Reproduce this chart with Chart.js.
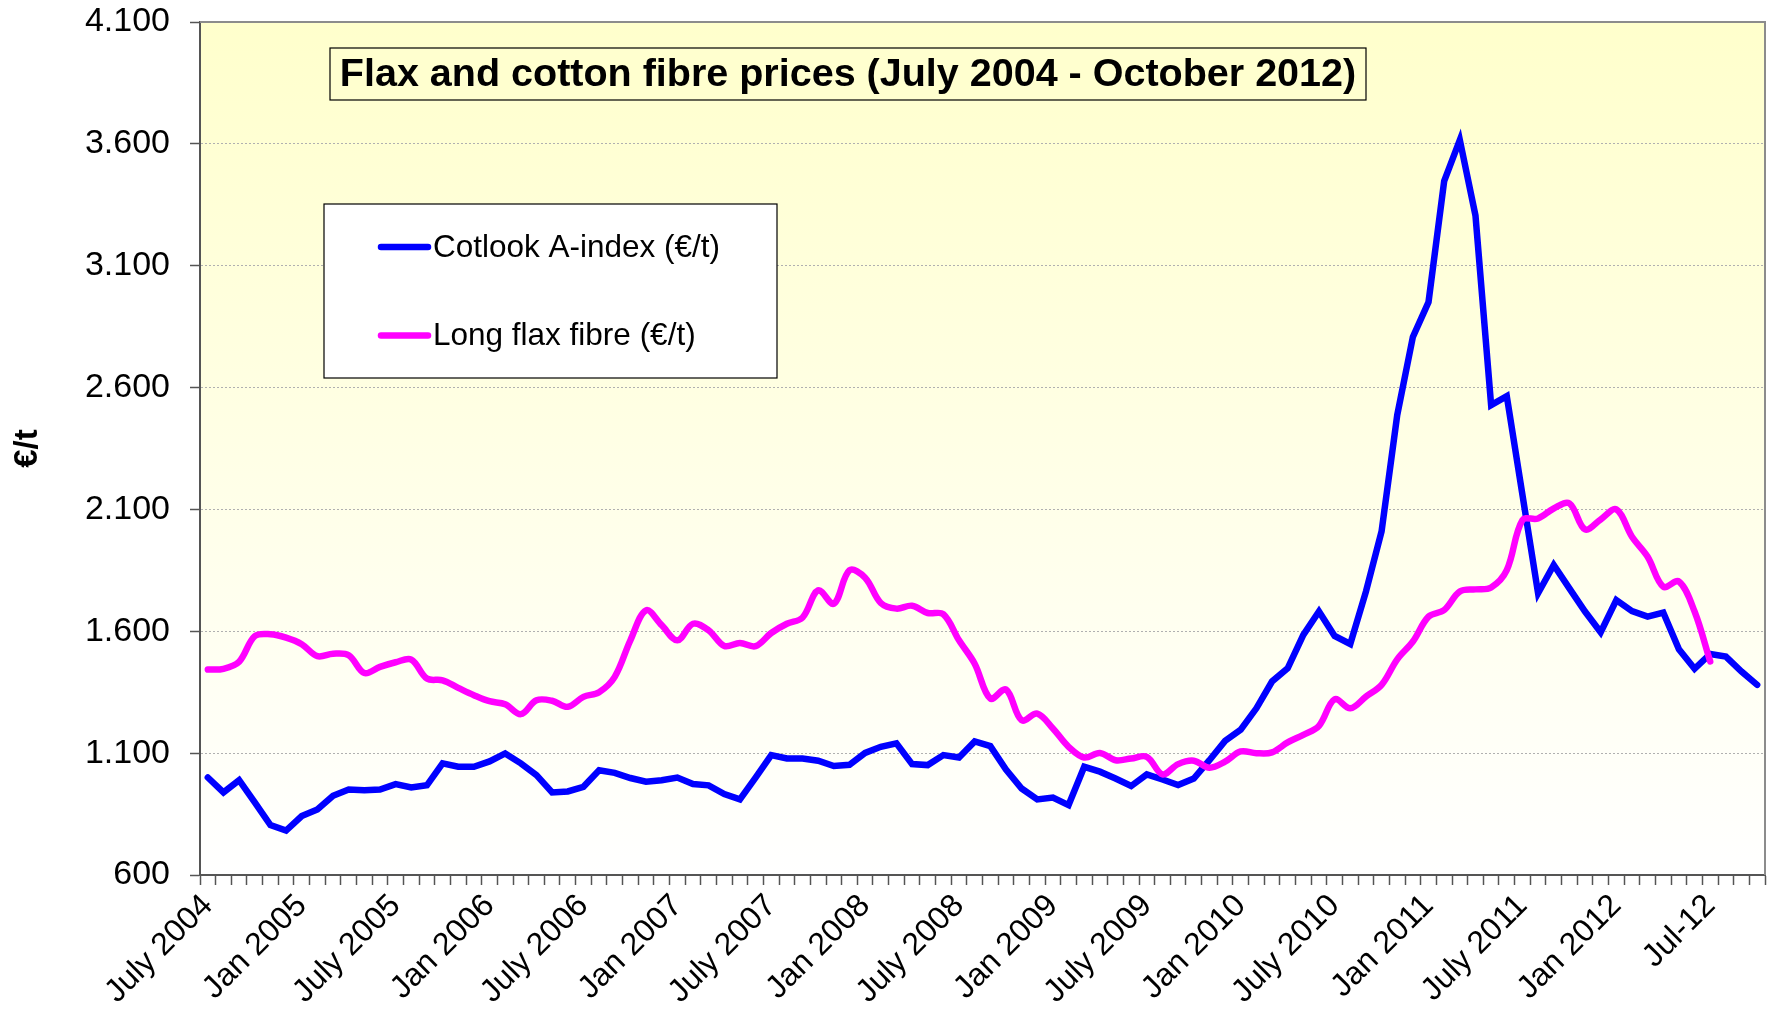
<!DOCTYPE html>
<html>
<head>
<meta charset="utf-8">
<script src="https://cdn.jsdelivr.net/npm/chart.js@4.4.1/dist/chart.umd.min.js"></script>
<style>
  html, body { margin: 0; padding: 0; background: #ffffff; }
  canvas { display: block; }
</style>
</head>
<body>
<canvas id="c" width="1771" height="1018"></canvas>
<script>
const FONT = '"Liberation Sans", Arial, Helvetica, sans-serif';

// ---- data ----
const monthNames = ['Jan','Feb','Mar','Apr','May','Jun','Jul','Aug','Sep','Oct','Nov','Dec'];
const startYear = 2004;
const startMonthIndex = 6;   // July
const monthCount = 100;      // July 2004 .. October 2012
const categories = [];
for (let k = 0; k < monthCount; k++) {
  const m = (startMonthIndex + k) % 12;
  const y = startYear + Math.floor((startMonthIndex + k) / 12);
  categories.push(monthNames[m] + ' ' + y);
}

const tickLabels = ['July 2004','Jan 2005','July 2005','Jan 2006','July 2006','Jan 2007',
  'July 2007','Jan 2008','July 2008','Jan 2009','July 2009','Jan 2010','July 2010',
  'Jan 2011','July 2011','Jan 2012','Jul-12'];
const tickEvery = 6;

const cotlook = [
  1000, 939, 989, 898, 805, 782, 842, 869, 925, 951,
  948, 951, 973, 959, 968, 1058, 1044, 1044, 1066, 1099,
  1058, 1010, 939, 943, 962, 1030, 1019, 998, 983, 989,
  1000, 973, 968, 932, 910, 1000, 1092, 1078, 1078, 1069,
  1047, 1052, 1101, 1126, 1140, 1055, 1051, 1092, 1082, 1148,
  1129, 1033, 955, 910, 918, 887, 1044, 1024, 996, 965,
  1013, 992, 969, 996, 1071, 1150, 1196, 1284, 1394, 1448,
  1585, 1681, 1581, 1548, 1763, 2010, 2487, 2808, 2951, 3447,
  3616, 3306, 2528, 2565, 2160, 1756, 1872, 1776, 1681, 1596,
  1728, 1683, 1660, 1677, 1526, 1446, 1507, 1496, 1435, 1380
];

const flax = [
  1443, 1446, 1475, 1580, 1588, 1574, 1547, 1498, 1508, 1502,
  1429, 1454, 1473, 1484, 1406, 1399, 1368, 1338, 1313, 1301,
  1260, 1317, 1315, 1290, 1331, 1350, 1413, 1563, 1686, 1625,
  1563, 1631, 1604, 1540, 1552, 1539, 1593, 1631, 1656, 1768,
  1713, 1850, 1820, 1716, 1693, 1705, 1675, 1670, 1563, 1467,
  1324, 1361, 1235, 1262, 1201, 1126, 1082, 1101, 1071, 1078,
  1085, 1013, 1055, 1069, 1040, 1065, 1107, 1100, 1103, 1144,
  1175, 1212, 1321, 1284, 1332, 1380, 1485, 1558, 1660, 1687,
  1763, 1772, 1780, 1851, 2056, 2063, 2104, 2125, 2018, 2059,
  2100, 1988, 1906, 1783, 1804, 1681, 1476, null, null, null
];

const seriesNames = ['Cotlook A-index (€/t)', 'Long flax fibre (€/t)'];
const seriesColors = ['#0000FF', '#FF00FF'];
const yMin = 600, yMax = 4100, yStep = 500;
const chartTitle = 'Flax and cotton fibre prices (July 2004 - October 2012)';
const yTitle = '€/t';

function fmtThousands(v) {
  return String(Math.round(v)).replace(/\B(?=(\d{3})+(?!\d))/g, '.');
}

// ---- plugins ----
const backgroundPlugin = {
  id: 'plotBackground',
  beforeDraw(chart) {
    const { ctx, chartArea: a } = chart;
    const g = ctx.createLinearGradient(0, a.top, 0, a.bottom);
    g.addColorStop(0, '#FFFFCC');
    g.addColorStop(1, '#FFFFFF');
    ctx.save();
    ctx.fillStyle = g;
    ctx.fillRect(a.left, a.top, a.right - a.left, a.bottom - a.top);
    ctx.restore();
  },
  beforeDatasetsDraw(chart) {
    const { ctx, chartArea: a } = chart;
    ctx.save();
    ctx.strokeStyle = '#8c8c8c';
    ctx.lineWidth = 2;
    ctx.beginPath();
    ctx.moveTo(a.left, a.top);
    ctx.lineTo(a.right, a.top);
    ctx.lineTo(a.right, a.bottom);
    ctx.stroke();
    ctx.restore();
  }
};

const overlayPlugin = {
  id: 'overlay',
  afterDraw(chart) {
    const ctx = chart.ctx;
    ctx.save();
    // title box
    const tb = { x: 330, y: 48, w: 1036, h: 52 };
    ctx.fillStyle = '#FFFFCF';
    ctx.fillRect(tb.x, tb.y, tb.w, tb.h);
    ctx.strokeStyle = '#000';
    ctx.lineWidth = 1.2;
    ctx.strokeRect(tb.x, tb.y, tb.w, tb.h);
    ctx.fillStyle = '#000';
    ctx.font = 'bold 39.5px ' + FONT;
    ctx.textAlign = 'center';
    ctx.textBaseline = 'middle';
    ctx.fillText(chartTitle, tb.x + tb.w / 2, tb.y + tb.h / 2 + 1);

    // legend box
    const lb = { x: 324, y: 204, w: 453, h: 174 };
    ctx.fillStyle = '#FFFFFF';
    ctx.fillRect(lb.x, lb.y, lb.w, lb.h);
    ctx.strokeStyle = '#000';
    ctx.lineWidth = 1.2;
    ctx.strokeRect(lb.x, lb.y, lb.w, lb.h);
    ctx.font = '31.5px ' + FONT;
    ctx.textAlign = 'left';
    ctx.textBaseline = 'middle';
    chart.data.datasets.forEach((ds, k) => {
      const y = 247 + k * 88.5;
      ctx.strokeStyle = ds.borderColor;
      ctx.lineWidth = 6.5;
      ctx.lineCap = 'round';
      ctx.beginPath();
      ctx.moveTo(381, y);
      ctx.lineTo(428, y);
      ctx.stroke();
      ctx.fillStyle = '#000';
      ctx.fillText(ds.label, 433, y + 1);
    });
    ctx.restore();
  }
};

// ---- chart ----
new Chart(document.getElementById('c'), {
  type: 'line',
  data: {
    labels: categories,
    datasets: [
      {
        label: seriesNames[0],
        data: cotlook,
        borderColor: seriesColors[0],
        backgroundColor: seriesColors[0],
        borderWidth: 6.5,
        pointRadius: 0,
        tension: 0,
        borderJoinStyle: 'miter',
        borderCapStyle: 'round',
        fill: false,
        order: 1
      },
      {
        label: seriesNames[1],
        data: flax,
        borderColor: seriesColors[1],
        backgroundColor: seriesColors[1],
        borderWidth: 6.5,
        pointRadius: 0,
        tension: 0.35,
        borderJoinStyle: 'round',
        borderCapStyle: 'round',
        fill: false,
        order: 0
      }
    ]
  },
  options: {
    responsive: false,
    animation: false,
    devicePixelRatio: 1,
    layout: { padding: { top: 22, right: 6, left: 0, bottom: 0 } },
    plugins: {
      legend: { display: false },
      title: { display: false },
      tooltip: { enabled: false }
    },
    scales: {
      x: {
        type: 'category',
        offset: true,
        afterFit(s) { s.height = 143; s.paddingLeft = 0; s.paddingRight = 0; s.paddingTop = 0; },
        grid: {
          display: true,
          drawOnChartArea: false,
          offset: true,
          tickLength: 10,
          tickColor: '#555',
          tickWidth: 1.5
        },
        border: { color: '#555', width: 2 },
        ticks: {
          autoSkip: false,
          maxRotation: 45,
          minRotation: 45,
          padding: 2,
          color: '#000',
          font: { family: FONT, size: 32 },
          callback: (v, i) => (i % tickEvery === 0 ? tickLabels[i / tickEvery] : '')
        }
      },
      y: {
        min: yMin,
        max: yMax,
        afterFit(s) { s.width = 200; s.paddingTop = 0; s.paddingBottom = 0; },
        grid: {
          color: '#b0b0b0',
          lineWidth: 1,
          tickLength: 10,
          tickColor: '#555',
          tickWidth: 1.5
        },
        border: { color: '#555', width: 2, dash: [2, 2] },
        ticks: {
          stepSize: yStep,
          padding: 20,
          color: '#000',
          font: { family: FONT, size: 34 },
          callback: (v) => fmtThousands(v)
        },
        title: {
          display: true,
          text: yTitle,
          color: '#000',
          font: { family: FONT, size: 33, weight: 'bold' },
          padding: { top: 8, bottom: 0 }
        }
      }
    }
  },
  plugins: [backgroundPlugin, overlayPlugin]
});
</script>
</body>
</html>
